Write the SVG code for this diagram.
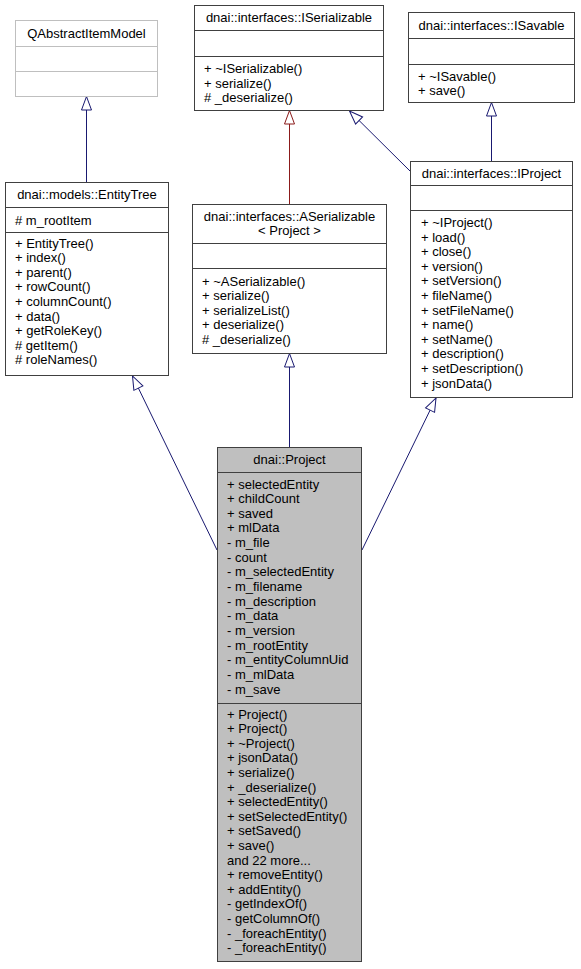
<svg xmlns="http://www.w3.org/2000/svg" width="581" height="969" viewBox="0 0 581 969">
<style>
.bx{fill:#ffffff;stroke:#404040;stroke-width:1}
.ext{fill:#ffffff;stroke:#bfbfbf;stroke-width:1}
.cur{fill:#bfbfbf;stroke:#404040;stroke-width:1}
.dv{stroke:#404040;stroke-width:1}
.dvx{stroke:#bfbfbf;stroke-width:1}
text{font-family:"Liberation Sans",Arial,Helvetica,sans-serif;font-size:13px;fill:#000000}
.c{text-anchor:middle}
.e{fill:none;stroke:#191970;stroke-width:1}
.er{fill:none;stroke:#8b1a1a;stroke-width:1}
</style>
<defs>
<marker id="inh" markerUnits="userSpaceOnUse" markerWidth="16" markerHeight="12" refX="14" refY="5.5" orient="auto" overflow="visible">
<path d="M0.5,0.5 L14,5.5 L0.5,10.5 Z" fill="#ffffff" stroke="#191970" stroke-width="1"/>
</marker>
<marker id="inhr" markerUnits="userSpaceOnUse" markerWidth="16" markerHeight="12" refX="14" refY="5.5" orient="auto" overflow="visible">
<path d="M0.5,0.5 L14,5.5 L0.5,10.5 Z" fill="#ffffff" stroke="#8b1a1a" stroke-width="1"/>
</marker>
</defs>

<g id="connectors">
<path class="e" d="M86.5,182 L86.5,96.5" marker-end="url(#inh)"/>
<path class="er" d="M289.5,204 L289.5,110.5" marker-end="url(#inhr)"/>
<path class="e" d="M491.5,161 L491.5,102.5" marker-end="url(#inh)"/>
<path class="e" d="M410,171 L349.5,111" marker-end="url(#inh)"/>
<path class="e" d="M217,550 L132.5,376" marker-end="url(#inh)"/>
<path class="e" d="M289.5,447 L289.5,353.5" marker-end="url(#inh)"/>
<path class="e" d="M362,550 L436,398" marker-end="url(#inh)"/>
</g>

<g id="QAbstractItemModel">
<rect class="ext" x="15.5" y="20.5" width="142" height="76"/>
<line class="dvx" x1="15.5" y1="46.5" x2="157.5" y2="46.5"/>
<line class="dvx" x1="15.5" y1="71.5" x2="157.5" y2="71.5"/>
<text class="c" x="86.5" y="37.5">QAbstractItemModel</text>
</g>

<g id="EntityTree">
<rect class="bx" x="5.5" y="182.5" width="163" height="193"/>
<line class="dv" x1="5.5" y1="207.5" x2="168.5" y2="207.5"/>
<line class="dv" x1="5.5" y1="232.5" x2="168.5" y2="232.5"/>
<text class="c" x="87" y="199">dnai::models::EntityTree</text>
<text x="15" y="224.5"># m_rootItem</text>
<text x="15" y="247.5">
<tspan x="15">+ EntityTree()</tspan>
<tspan x="15" dy="14.6">+ index()</tspan>
<tspan x="15" dy="14.6">+ parent()</tspan>
<tspan x="15" dy="14.6">+ rowCount()</tspan>
<tspan x="15" dy="14.6">+ columnCount()</tspan>
<tspan x="15" dy="14.6">+ data()</tspan>
<tspan x="15" dy="14.6">+ getRoleKey()</tspan>
<tspan x="15" dy="14.6"># getItem()</tspan>
<tspan x="15" dy="14.6"># roleNames()</tspan>
</text>
</g>

<g id="ISerializable">
<rect class="bx" x="194.5" y="5.5" width="189" height="105"/>
<line class="dv" x1="194.5" y1="30.5" x2="383.5" y2="30.5"/>
<line class="dv" x1="194.5" y1="56.5" x2="383.5" y2="56.5"/>
<text class="c" x="289" y="22">dnai::interfaces::ISerializable</text>
<text x="204" y="73">
<tspan x="204">+ ~ISerializable()</tspan>
<tspan x="204" dy="14.6">+ serialize()</tspan>
<tspan x="204" dy="14.6"># _deserialize()</tspan>
</text>
</g>

<g id="ISavable">
<rect class="bx" x="408.5" y="12.5" width="166" height="90"/>
<line class="dv" x1="408.5" y1="38.5" x2="574.5" y2="38.5"/>
<line class="dv" x1="408.5" y1="64.5" x2="574.5" y2="64.5"/>
<text class="c" x="491.5" y="29.5">dnai::interfaces::ISavable</text>
<text x="418" y="80.5">
<tspan x="418">+ ~ISavable()</tspan>
<tspan x="418" dy="14.6">+ save()</tspan>
</text>
</g>

<g id="ASerializable">
<rect class="bx" x="192.5" y="204.5" width="194" height="149"/>
<line class="dv" x1="192.5" y1="243.5" x2="386.5" y2="243.5"/>
<line class="dv" x1="192.5" y1="268.5" x2="386.5" y2="268.5"/>
<text class="c" x="289.5" y="221">dnai::interfaces::ASerializable</text>
<text class="c" x="289.5" y="235">&lt; Project &gt;</text>
<text x="202" y="285.5">
<tspan x="202">+ ~ASerializable()</tspan>
<tspan x="202" dy="14.6">+ serialize()</tspan>
<tspan x="202" dy="14.6">+ serializeList()</tspan>
<tspan x="202" dy="14.6">+ deserialize()</tspan>
<tspan x="202" dy="14.6"># _deserialize()</tspan>
</text>
</g>

<g id="IProject">
<rect class="bx" x="410.5" y="161.5" width="162" height="236"/>
<line class="dv" x1="410.5" y1="185.5" x2="572.5" y2="185.5"/>
<line class="dv" x1="410.5" y1="210.5" x2="572.5" y2="210.5"/>
<text class="c" x="491.5" y="177.5">dnai::interfaces::IProject</text>
<text x="421" y="227">
<tspan x="421">+ ~IProject()</tspan>
<tspan x="421" dy="14.6">+ load()</tspan>
<tspan x="421" dy="14.6">+ close()</tspan>
<tspan x="421" dy="14.6">+ version()</tspan>
<tspan x="421" dy="14.6">+ setVersion()</tspan>
<tspan x="421" dy="14.6">+ fileName()</tspan>
<tspan x="421" dy="14.6">+ setFileName()</tspan>
<tspan x="421" dy="14.6">+ name()</tspan>
<tspan x="421" dy="14.6">+ setName()</tspan>
<tspan x="421" dy="14.6">+ description()</tspan>
<tspan x="421" dy="14.6">+ setDescription()</tspan>
<tspan x="421" dy="14.6">+ jsonData()</tspan>
</text>
</g>

<g id="Project">
<rect class="cur" x="217.5" y="447.5" width="144" height="514"/>
<line class="dv" x1="217.5" y1="472.5" x2="361.5" y2="472.5"/>
<line class="dv" x1="217.5" y1="703.5" x2="361.5" y2="703.5"/>
<text class="c" x="289.5" y="464">dnai::Project</text>
<text x="227" y="488.5">
<tspan x="227">+ selectedEntity</tspan>
<tspan x="227" dy="14.65">+ childCount</tspan>
<tspan x="227" dy="14.65">+ saved</tspan>
<tspan x="227" dy="14.65">+ mlData</tspan>
<tspan x="227" dy="14.65">- m_file</tspan>
<tspan x="227" dy="14.65">- count</tspan>
<tspan x="227" dy="14.65">- m_selectedEntity</tspan>
<tspan x="227" dy="14.65">- m_filename</tspan>
<tspan x="227" dy="14.65">- m_description</tspan>
<tspan x="227" dy="14.65">- m_data</tspan>
<tspan x="227" dy="14.65">- m_version</tspan>
<tspan x="227" dy="14.65">- m_rootEntity</tspan>
<tspan x="227" dy="14.65">- m_entityColumnUid</tspan>
<tspan x="227" dy="14.65">- m_mlData</tspan>
<tspan x="227" dy="14.65">- m_save</tspan>
</text>
<text x="227" y="718.5">
<tspan x="227">+ Project()</tspan>
<tspan x="227" dy="14.6">+ Project()</tspan>
<tspan x="227" dy="14.6">+ ~Project()</tspan>
<tspan x="227" dy="14.6">+ jsonData()</tspan>
<tspan x="227" dy="14.6">+ serialize()</tspan>
<tspan x="227" dy="14.6">+ _deserialize()</tspan>
<tspan x="227" dy="14.6">+ selectedEntity()</tspan>
<tspan x="227" dy="14.6">+ setSelectedEntity()</tspan>
<tspan x="227" dy="14.6">+ setSaved()</tspan>
<tspan x="227" dy="14.6">+ save()</tspan>
<tspan x="227" dy="14.6">and 22 more...</tspan>
<tspan x="227" dy="14.6">+ removeEntity()</tspan>
<tspan x="227" dy="14.6">+ addEntity()</tspan>
<tspan x="227" dy="14.6">- getIndexOf()</tspan>
<tspan x="227" dy="14.6">- getColumnOf()</tspan>
<tspan x="227" dy="14.6">- _foreachEntity()</tspan>
<tspan x="227" dy="14.6">- _foreachEntity()</tspan>
</text>
</g>
</svg>
